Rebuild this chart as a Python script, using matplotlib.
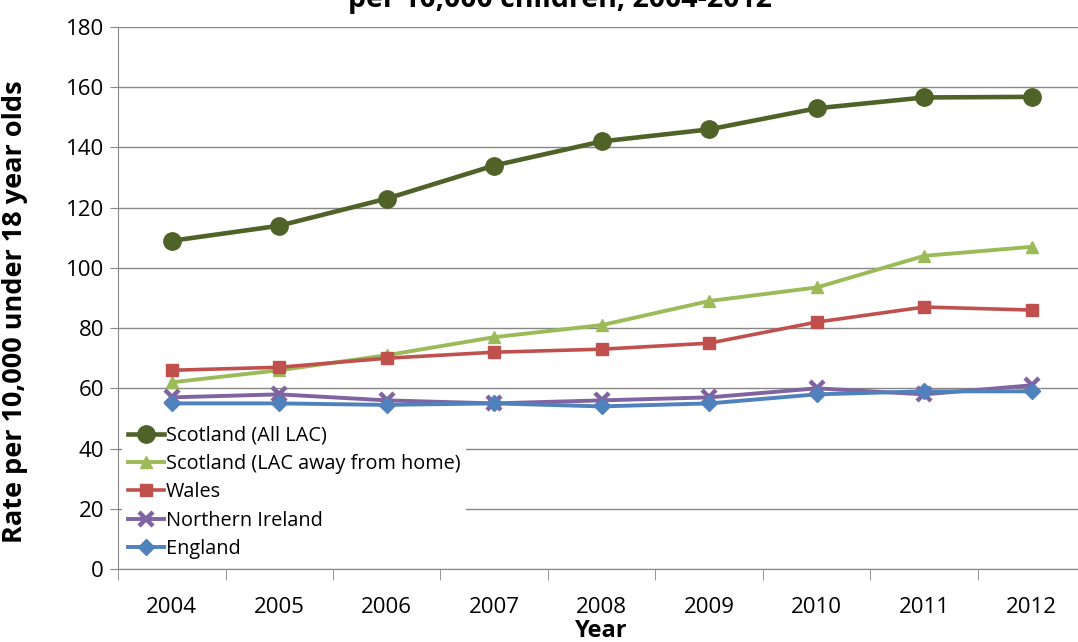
import matplotlib.pyplot as plt
import numpy as np

plt.rcParams['font.family'] = ['Open Sans', 'DejaVu Sans']

years = ['2004', '2005', '2006', '2007', '2008', '2009', '2010', '2011', '2012']
scot_all = [109, 114, 123, 134, 142, 146, 153, 156.6, 156.8]
scot_away = [62, 66, 71, 77, 81, 89, 93.5, 104, 107]
wales = [66, 67, 70, 72, 73, 75, 82, 87, 86]
ni = [57, 58, 56, 55, 56, 57, 60, 58, 61]
england = [55, 55, 54.5, 55, 54, 55, 58, 59, 59]

fig = plt.figure(figsize=(10.78, 6.42), dpi=100)
ax = fig.add_axes([118 / 1078, 73 / 642, 967.5 / 1078, 542 / 642])
x = np.arange(len(years))

ax.plot(x, scot_all, color='#4F6228', lw=3.3, marker='o', ms=12.5, label='Scotland (All LAC)', zorder=5)
ax.plot(x, scot_away, color='#9BBB59', lw=2.8, marker='^', ms=9, label='Scotland (LAC away from home)', zorder=4)
ax.plot(x, wales, color='#C0504D', lw=2.6, marker='s', ms=8, label='Wales', zorder=4)
ax.plot(x, ni, color='#8064A2', lw=2.8, marker='x', ms=10, mew=3.2, label='Northern Ireland', zorder=4)
ax.plot(x, england, color='#4F81BD', lw=2.8, marker='D', ms=8.5, label='England', zorder=4)

ax.set_xlim(-0.5, 8.5)
ax.set_ylim(0, 180)
ax.set_yticks(range(0, 181, 20))
ax.set_xticks(x)
ax.set_xticklabels(years)
ax.set_xticks(np.arange(-0.5, 9, 1), minor=True)
ax.tick_params(axis='x', which='major', length=0, pad=20, labelsize=16)
ax.tick_params(axis='x', which='minor', length=8, direction='out', color='#868686')
ax.tick_params(axis='y', length=6, direction='out', color='#868686', labelsize=16, pad=4)
ax.grid(axis='y', color='#868686', lw=1)
ax.set_axisbelow(True)
for s in ['top', 'right']:
    ax.spines[s].set_visible(False)
for s in ['left', 'bottom']:
    ax.spines[s].set_color('#868686')

ax.set_ylabel('Rate per 10,000 under 18 year olds', fontsize=19.5, fontweight='bold')
ax.yaxis.set_label_coords(-90 / 967.5, 0.475)
ax.set_xlabel('Year', fontsize=17, fontweight='bold', labelpad=1)

leg = ax.legend(loc='lower left', bbox_to_anchor=(0.0, 0.0), fontsize=14.3, frameon=True,
                framealpha=1, edgecolor='none', fancybox=False, handlelength=1.8,
                handletextpad=0.1, labelspacing=0.42, borderpad=0.3, borderaxespad=0.2)
leg.set_zorder(10)

fig.text(560 / 1078, 1.0, 'per 10,000 children, 2004-2012', ha='center', va='center',
         fontsize=20.5, fontweight='bold')

fig.savefig('out.png', dpi=100)
